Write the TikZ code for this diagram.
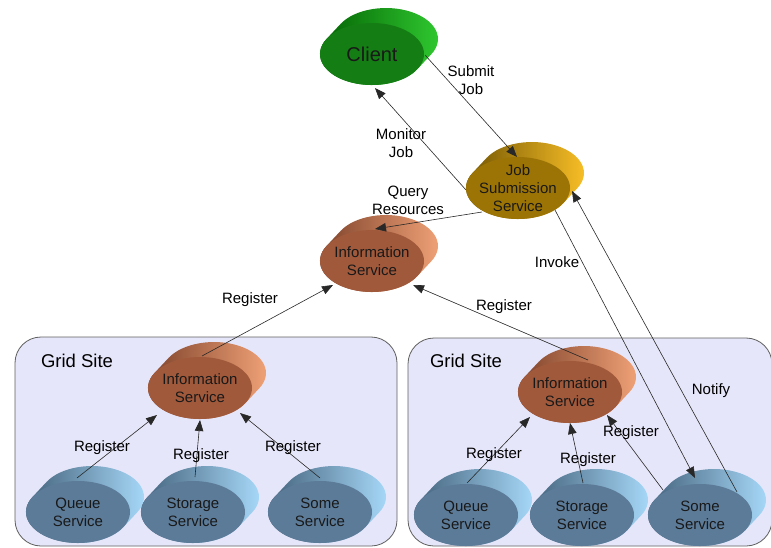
\documentclass[tikz,border=0pt]{standalone}
\usepackage{fontspec}
\setmainfont{Liberation Sans}
\usetikzlibrary{shapes.geometric,arrows.meta,calc}

% service colours: front face, dark side, lit side
\definecolor{clientFront}{RGB}{20,126,20}
\definecolor{clientDark}{RGB}{0,92,0}
\definecolor{clientLight}{RGB}{50,205,50}
\definecolor{jobFront}{RGB}{156,116,6}
\definecolor{jobDark}{RGB}{105,78,0}
\definecolor{jobLight}{RGB}{255,196,40}
\definecolor{infoFront}{RGB}{161,89,59}
\definecolor{infoDark}{RGB}{118,60,38}
\definecolor{infoLight}{RGB}{246,166,122}
\definecolor{siteFront}{RGB}{92,123,152}
\definecolor{siteDark}{RGB}{60,90,115}
\definecolor{siteLight}{RGB}{172,222,255}
\definecolor{siteFill}{RGB}{230,230,250}
\definecolor{siteEdge}{RGB}{95,95,95}
\definecolor{wireColor}{RGB}{40,40,40}

\tikzset{
  svc/.style={ellipse, minimum width=104pt, minimum height=62pt,
    inner sep=0pt, outer sep=0pt},
  svctext/.style={align=center, inner sep=0pt, text=black!90,
    font=\fontsize{15}{18}\selectfont},
  lbl/.style={align=center, inner sep=0pt,
    font=\fontsize{15}{18}\selectfont},
  sitetitle/.style={inner sep=0pt, font=\fontsize{18.5}{20}\selectfont},
  sitebox/.style={draw=siteEdge, fill=siteFill, line width=0.8pt,
    rounded corners=26pt, inner sep=0pt},
  conn/.style={draw=wireColor, line width=0.6pt,
    -{Triangle[length=11pt,width=8.5pt]}},
}

% extruded ellipse: shaded body behind a flat front face
% #1 name, #2 x, #3 y, #4 front, #5 dark, #6 light, #7 text
\newcommand{\servicenode}[7]{%
  \begin{scope}[shift={(#2,#3)}]
    \shade[left color=#5, middle color=#5!85!#6, right color=#6]
      (45.4pt,-15.1pt)
      arc[start angle=-29.1, end angle=-209.1, x radius=52pt, y radius=31pt]
      -- ++(14pt,15pt)
      arc[start angle=150.9, end angle=-29.1, x radius=52pt, y radius=31pt]
      -- cycle;
  \end{scope}
  \node[svc, fill=#4, label={[svctext]center:{#7}}] (#1) at (#2,#3) {};
}

\begin{document}
\begin{tikzpicture}[x=1pt,y=-1pt]
  \useasboundingbox (0,0) rectangle (771,548);

  % grid sites
  \node[sitebox, minimum width=382pt, minimum height=209pt] (siteL) at (206,441.5) {};
  \node[sitebox, minimum width=364pt, minimum height=208pt] (siteR) at (590,442) {};
  \node[sitetitle] (titleL) at (77,361) {Grid Site};
  \node[sitetitle] (titleR) at (466,361) {Grid Site};

  % services
  \servicenode{cl}{372}{54}{clientFront}{clientDark}{clientLight}{\fontsize{20}{22}\selectfont Client}
  \servicenode{js}{518}{188}{jobFront}{jobDark}{jobLight}{Job\\Submission\\Service}
  \servicenode{is}{372}{261}{infoFront}{infoDark}{infoLight}{Information\\Service}

  \servicenode{isL}{200}{388}{infoFront}{infoDark}{infoLight}{Information\\Service}
  \servicenode{qL}{78}{512}{siteFront}{siteDark}{siteLight}{Queue\\Service}
  \servicenode{stL}{193}{512}{siteFront}{siteDark}{siteLight}{Storage\\Service}
  \servicenode{smL}{320}{512}{siteFront}{siteDark}{siteLight}{Some\\Service}

  \servicenode{isR}{570}{392}{infoFront}{infoDark}{infoLight}{Information\\Service}
  \servicenode{qR}{466}{515}{siteFront}{siteDark}{siteLight}{Queue\\Service}
  \servicenode{stR}{582}{515}{siteFront}{siteDark}{siteLight}{Storage\\Service}
  \servicenode{smR}{700}{515}{siteFront}{siteDark}{siteLight}{Some\\Service}

  % interactions
  \draw[conn] ($(cl.center)+(53,1)$) -- ($(js.center)+(-1,-31)$);
  \draw[conn] ($(js.center)+(-52,2)$) -- ($(cl.center)+(3,34)$);
  \draw[conn] ($(js.center)+(-36,24)$) -- ($(is.center)+(3,-32)$);
  \draw[conn] ($(js.center)+(37,22)$) -- ($(smR.center)+(-5,-37)$);
  \draw[conn] ($(smR.center)+(37,-23)$) -- ($(js.center)+(54,3)$);
  \draw[conn] ($(isL.center)+(2,-32)$) -- ($(is.center)+(-39,24)$);
  \draw[conn] ($(isR.center)+(18,-32)$) -- ($(is.center)+(41,24)$);

  \draw[conn] ($(qL.center)+(-1,-34)$) -- ($(isL.center)+(-43,27)$);
  \draw[conn] ($(stL.center)+(2,-35)$) -- ($(isL.center)+(0,32)$);
  \draw[conn] ($(smL.center)+(0,-34)$) -- ($(isL.center)+(40,25)$);

  \draw[conn] ($(qR.center)+(1,-32)$) -- ($(isR.center)+(-40,25)$);
  \draw[conn] ($(stR.center)+(1,-32)$) -- ($(isR.center)+(0,31)$);
  \draw[conn] ($(smR.center)+(-37,-25)$) -- ($(isR.center)+(37,23)$);

  % connector labels
  \node[lbl] (tSubmit) at (471,80) {Submit\\Job};
  \node[lbl] (tMonitor) at (401,143) {Monitor\\Job};
  \node[lbl] (tQuery) at (408,200) {Query\\Resources};
  \node[lbl] (tInvoke) at (557,262) {Invoke};
  \node[lbl] (tNotify) at (711,391) {Notify};
  \node[lbl] (tRegTL) at (250,300) {Register};
  \node[lbl] (tRegTR) at (504,307) {Register};
  \node[lbl] (tRegL1) at (102,448) {Register};
  \node[lbl] (tRegL2) at (201,456) {Register};
  \node[lbl] (tRegL3) at (293,448) {Register};
  \node[lbl] (tRegR1) at (494,455) {Register};
  \node[lbl] (tRegR2) at (588,460) {Register};
  \node[lbl] (tRegR3) at (631,433) {Register};
\end{tikzpicture}
\end{document}
